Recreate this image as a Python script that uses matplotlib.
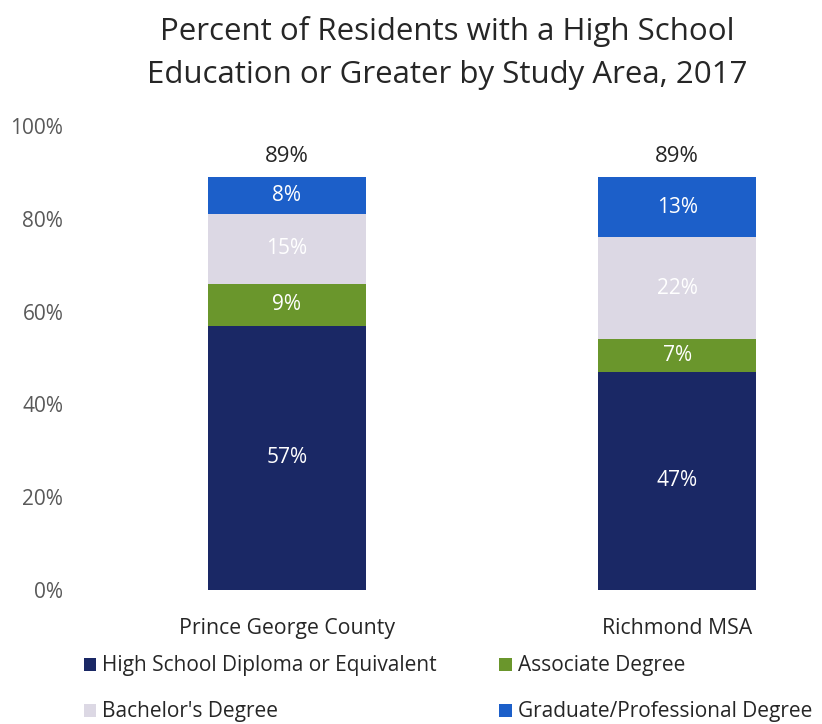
import matplotlib
matplotlib.use("Agg")
import matplotlib.pyplot as plt
from matplotlib.patches import Patch

plt.rcParams['font.family'] = ['Open Sans', 'DejaVu Sans']

categories = ["Prince George County", "Richmond MSA"]
series_names = ["High School Diploma or Equivalent", "Associate Degree",
                "Bachelor's Degree", "Graduate/Professional Degree"]
high_school = [57, 47]
associate = [9, 7]
bachelor = [15, 22]
graduate = [8, 13]
totals = [89, 89]
y_ticks = [0, 20, 40, 60, 80, 100]
y_tick_labels = ["0%", "20%", "40%", "60%", "80%", "100%"]

colors = ["#1a2865", "#6a962c", "#dcd8e4", "#1c5fc9"]

fig = plt.figure(figsize=(8.22, 7.24), dpi=100)
ax = fig.add_axes([80/822, (724-590)/724, 730/822, 464/724])

x = list(range(len(categories)))
series = [high_school, associate, bachelor, graduate]
bottoms = [0]*len(categories)
for vals, col in zip(series, colors):
    ax.bar(x, vals, width=0.405, bottom=bottoms, color=col, edgecolor='none')
    for xi, v, b in zip(x, vals, bottoms):
        ax.text(xi, b + v/2, f"{v}%", ha='center', va='center', color='white', fontsize=15)
    bottoms = [b + v for b, v in zip(bottoms, vals)]

for xi, t in zip(x, totals):
    ax.annotate(f"{t}%", (xi, t), xytext=(0, 7), textcoords='offset points',
                ha='center', va='bottom', fontsize=16, color='#262626')

ax.set_xlim(-0.53, 1.34)
ax.set_ylim(0, 100)
ax.set_yticks(y_ticks)
ax.set_yticklabels(y_tick_labels, fontsize=15, color='#595959')
ax.set_xticks(x)
ax.set_xticklabels(categories, fontsize=15.3, color='#262626')
ax.tick_params(axis='both', length=0)
ax.tick_params(axis='y', pad=12)
ax.tick_params(axis='x', pad=20)
for s in ax.spines.values():
    s.set_visible(False)

fig.text(447/822, 1 - 53/724, "Percent of Residents with a High School\nEducation or Greater by Study Area, 2017",
         ha='center', va='center', fontsize=22.5, color='#262626', linespacing=1.55)

handles = [Patch(facecolor=colors[0]), Patch(facecolor=colors[2]),
           Patch(facecolor=colors[1]), Patch(facecolor=colors[3])]
labels = [series_names[0], series_names[2], series_names[1], series_names[3]]
fig.legend(handles, labels, ncol=2, loc='center', bbox_to_anchor=(448/822, 1 - 689/724),
           frameon=False, fontsize=15, labelcolor='#262626', handlelength=0.6,
           handleheight=0.6, handletextpad=0.3, columnspacing=3.0, labelspacing=1.2)

fig.savefig("out.png", dpi=100)
